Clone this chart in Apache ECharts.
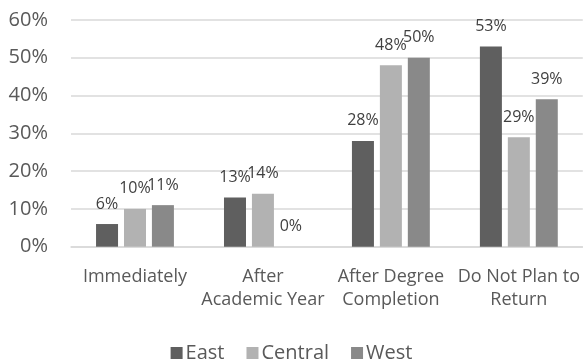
<!DOCTYPE html>
<html>
<head>
<meta charset="utf-8">
<script src="https://cdn.jsdelivr.net/npm/echarts@6/dist/echarts.min.js"></script>
<style>
  html, body { margin: 0; padding: 0; background: #ffffff; }
  #chart { width: 583px; height: 363px; }
</style>
</head>
<body>
<div id="chart"></div>
<script>
// Timing of return, share of respondents by region (percent)
const categories = ['Immediately', 'After\nAcademic Year', 'After Degree\nCompletion', 'Do Not Plan to\nReturn'];
const seriesNames = ['East', 'Central', 'West'];
const east = [6, 13, 28, 53];
const central = [10, 14, 48, 29];
const west = [11, 0, 50, 39];
const yTicks = [0, 10, 20, 30, 40, 50, 60];

const colors = ['#5f5f5f', '#b2b2b2', '#898989'];
const fontFamily = '"Open Sans", "Noto Sans", sans-serif';

function barSeries(name, values, color) {
  return {
    name: name,
    type: 'bar',
    data: values,
    barWidth: 22,
    barGap: '27%',
    itemStyle: { color: color },
    label: {
      show: true,
      position: 'top',
      distance: 12,
      formatter: p => p.value + '%',
      color: '#404040',
      fontSize: 16,
      fontFamily: fontFamily
    }
  };
}

const chart = echarts.init(document.getElementById('chart'), null, { renderer: 'canvas' });
chart.setOption({
  animation: false,
  backgroundColor: '#ffffff',
  grid: { left: 71, right: 0, top: 20, bottom: 116.3, containLabel: false },
  legend: {
    data: seriesNames,
    top: 338,
    left: 'center',
    itemWidth: 12,
    itemHeight: 12,
    itemGap: 22,
    icon: 'rect',
    textStyle: { color: '#595959', fontSize: 20, fontFamily: fontFamily, padding: [0, 0, 0, -2] }
  },
  xAxis: {
    type: 'category',
    data: categories,
    axisLine: { show: true, lineStyle: { color: '#d9d9d9', width: 1.5 } },
    axisTick: { show: false },
    axisLabel: {
      color: '#595959',
      fontSize: 18,
      fontFamily: fontFamily,
      lineHeight: 23,
      margin: 19,
      interval: 0
    }
  },
  yAxis: {
    type: 'value',
    min: yTicks[0],
    max: yTicks[yTicks.length - 1],
    interval: 10,
    axisLine: { show: false },
    axisTick: { show: false },
    splitLine: { lineStyle: { color: '#d9d9d9', width: 1.5 } },
    axisLabel: {
      color: '#595959',
      fontSize: 20,
      fontFamily: fontFamily,
      margin: 23,
      formatter: v => v + '%'
    }
  },
  series: [
    barSeries(seriesNames[0], east, colors[0]),
    barSeries(seriesNames[1], central, colors[1]),
    barSeries(seriesNames[2], west, colors[2])
  ]
});
</script>
</body>
</html>
